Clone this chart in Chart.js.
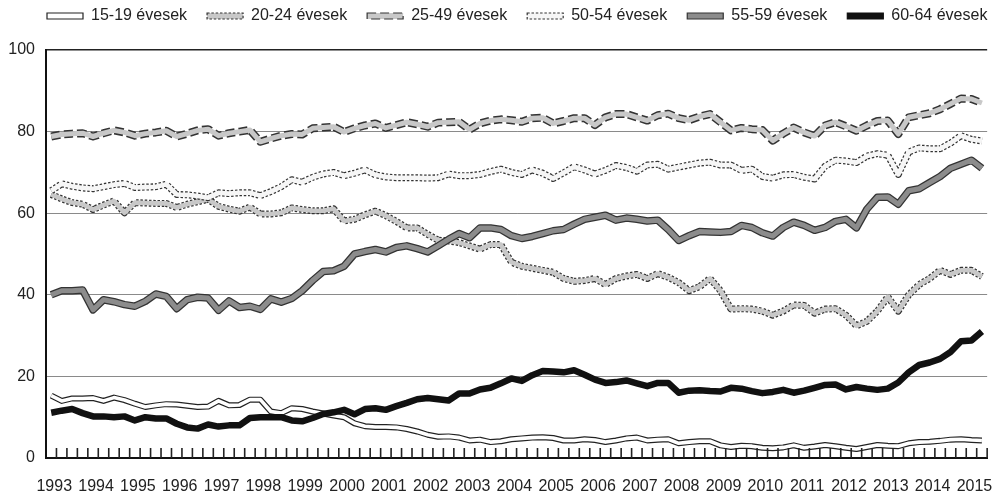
<!DOCTYPE html>
<html>
<head>
<meta charset="utf-8">
<script src="https://cdn.jsdelivr.net/npm/chart.js@4.4.0/dist/chart.umd.min.js"></script>
<style>
  html, body { margin: 0; padding: 0; background: #fff; }
  #wrap { width: 1001px; height: 496px; }
</style>
</head>
<body>
<div id="wrap"><canvas id="chart"></canvas></div>
<script>
// years on the axis, data is quarterly from 1993 Q1 to 2015 Q2
const years = [1993, 1994, 1995, 1996, 1997, 1998, 1999, 2000, 2001, 2002, 2003, 2004,
               2005, 2006, 2007, 2008, 2009, 2010, 2011, 2012, 2013, 2014, 2015];
const quarters = [];
years.forEach(y => ['I', 'II', 'III', 'IV'].forEach(q => quarters.push(y + '. ' + q + '.')));
quarters.length = 90;

const seriesNames = ['15-19 évesek', '20-24 évesek', '25-49 évesek', '50-54 évesek', '55-59 évesek', '60-64 évesek'];

const age1519 = [
  15.3, 14.0, 14.6, 14.6, 14.7, 14.0, 14.8, 14.2, 13.3, 12.5,
  12.9, 13.2, 13.1, 12.8, 12.5, 12.6, 14.0, 12.9, 13.0, 14.3,
  14.3, 11.4, 11.0, 12.2, 12.0, 11.4, 10.9, 10.4, 10.0, 8.5,
  7.8, 7.6, 7.6, 7.5, 7.1, 6.5, 5.7, 5.2, 5.3, 5.0,
  4.3, 4.5, 3.9, 4.1, 4.6, 4.8, 5.0, 5.1, 4.9, 4.3,
  4.3, 4.6, 4.4, 3.9, 4.3, 4.8, 5.0, 4.3, 4.5, 4.6,
  3.6, 3.9, 4.1, 4.1, 3.1, 2.7, 3.0, 2.9, 2.5, 2.4,
  2.6, 3.1, 2.5, 2.8, 3.2, 2.9, 2.5, 2.2, 2.7, 3.2,
  3.0, 2.9, 3.6, 3.9, 4.0, 4.2, 4.5, 4.6, 4.4, 4.3
];
const age2024 = [
  64.6, 63.5, 62.6, 62.2, 60.9, 62.0, 63.0, 60.1, 62.6, 62.5,
  62.4, 62.4, 61.4, 62.2, 62.8, 63.4, 61.7, 61.0, 60.5, 61.5,
  59.8, 59.8, 60.1, 61.3, 60.9, 60.6, 60.6, 61.1, 58.1, 58.5,
  59.6, 60.5, 59.4, 58.0, 56.4, 56.4, 54.8, 53.4, 53.2, 52.8,
  52.0, 51.2, 52.3, 52.3, 48.0, 47.0, 46.5, 46.0, 45.5, 44.0,
  43.3, 43.5, 44.0, 42.5, 44.0, 44.6, 45.0, 44.0, 45.2, 44.3,
  43.0, 41.0, 42.0, 44.0, 41.0, 36.5, 36.6, 36.5, 36.0, 35.0,
  36.0, 37.5, 37.4, 35.5, 36.5, 36.6, 35.0, 32.4, 33.5, 36.0,
  39.5, 36.0, 40.0, 42.5, 44.0, 46.0, 45.0, 46.0, 46.0, 44.5
];
const age2549 = [
  78.8, 79.3, 79.5, 79.6, 78.8, 79.6, 80.3, 79.8, 79.0, 79.5,
  79.8, 80.2, 78.8, 79.5, 80.3, 80.6, 79.0, 79.6, 80.0, 80.4,
  77.5, 78.3, 79.0, 79.4, 79.3, 80.8, 81.0, 81.2, 79.9, 80.8,
  81.5, 82.0, 80.9, 81.6, 82.3, 81.8, 81.2, 82.2, 82.3, 82.4,
  80.5, 82.0, 82.7, 83.0, 82.8, 82.4, 83.3, 83.4, 82.0, 82.6,
  83.3, 83.3, 81.6, 83.5, 84.3, 84.3, 83.5, 82.7, 84.0, 84.4,
  83.3, 82.8, 83.7, 84.3, 82.3, 80.3, 80.9, 80.6, 80.4, 77.8,
  79.5, 81.0, 79.8, 78.9, 81.5, 82.3, 81.3, 80.2, 81.5, 82.6,
  82.7, 79.4, 83.5, 84.0, 84.5, 85.5, 86.8, 88.1, 88.0, 87.0
];
const age5054 = [
  65.5, 67.2, 66.6, 66.2, 66.0, 66.5, 67.0, 67.3, 66.3, 66.4,
  66.5, 67.1, 64.6, 64.5, 64.2, 63.8, 65.0, 64.8, 65.0, 65.0,
  64.3, 65.3, 66.5, 68.2, 67.6, 68.8, 69.6, 70.0, 69.2, 69.8,
  70.6, 69.4, 68.9, 68.7, 68.7, 68.7, 68.6, 68.7, 69.6, 69.2,
  69.2, 69.5, 70.2, 70.8, 70.0, 69.5, 70.6, 69.8, 68.5, 69.9,
  71.4, 70.6, 69.6, 70.5, 71.7, 71.2, 70.3, 71.8, 72.0, 70.8,
  71.3, 71.8, 72.3, 72.5, 71.8, 71.8, 70.5, 70.8, 69.0, 68.6,
  69.4, 69.5, 68.8, 68.4, 71.5, 73.0, 72.8, 72.4, 74.0, 74.6,
  74.2, 69.5, 75.0, 76.0, 75.8, 75.8, 77.2, 79.0, 78.1, 77.7
];
const age5559 = [
  40.0, 41.0, 41.0, 41.2, 36.3, 38.8, 38.3, 37.6, 37.2, 38.4,
  40.2, 39.6, 36.6, 38.8, 39.4, 39.2, 36.2, 38.5, 36.9, 37.2,
  36.4, 39.0, 38.2, 39.1, 41.0, 43.5, 45.7, 45.9, 47.0, 50.0,
  50.6, 51.1, 50.5, 51.6, 52.0, 51.3, 50.5, 52.0, 53.6, 55.0,
  54.0, 56.4, 56.4, 56.0, 54.5, 53.8, 54.3, 55.0, 55.7, 56.0,
  57.3, 58.5, 59.0, 59.5, 58.3, 58.8, 58.5, 58.1, 58.3, 56.0,
  53.3, 54.5, 55.5, 55.4, 55.3, 55.5, 57.0, 56.5, 55.2, 54.4,
  56.5, 57.8, 57.0, 55.8, 56.5, 58.0, 58.5, 56.4, 61.0, 63.9,
  64.0, 62.2, 65.5, 66.0, 67.5, 69.0, 71.0, 72.0, 73.0, 71.0
];
const age6064 = [
  11.1, 11.6, 12.0, 11.0, 10.2, 10.2, 10.0, 10.2, 9.2, 10.0,
  9.7, 9.7, 8.4, 7.5, 7.2, 8.2, 7.7, 8.0, 8.0, 9.8,
  10.0, 10.0, 10.0, 9.2, 9.0, 9.8, 10.8, 11.2, 11.8, 10.7,
  12.0, 12.2, 11.8, 12.7, 13.5, 14.4, 14.7, 14.4, 14.1, 15.8,
  15.8, 16.8, 17.2, 18.3, 19.5, 18.9, 20.3, 21.3, 21.2, 21.0,
  21.5, 20.4, 19.2, 18.4, 18.6, 19.0, 18.3, 17.6, 18.4, 18.4,
  16.0, 16.5, 16.6, 16.4, 16.3, 17.2, 17.0, 16.4, 15.9, 16.2,
  16.7, 16.0, 16.5, 17.2, 17.9, 18.0, 16.8, 17.4, 17.0, 16.7,
  17.0, 18.5, 21.0, 22.8, 23.4, 24.3, 26.0, 28.6, 28.8, 31.0
];
const seriesData = [age1519, age2024, age2549, age5054, age5559, age6064];

// how each line looks: a dark outline stroke under a lighter inner stroke
const looks = [
  { fill: '#ffffff', edge: '#222222', dash: [],         outer: 6,   inner: 3.6 },
  { fill: '#c8c8c8', edge: '#333333', dash: [2.5, 1.8], outer: 7,   inner: 4.6 },
  { fill: '#c8c8c8', edge: '#333333', dash: [9, 4],     outer: 8,   inner: 5 },
  { fill: '#f6f6f6', edge: '#333333', dash: [2.5, 1.8], outer: 7,   inner: 4.6 },
  { fill: '#8c8c8c', edge: '#333333', dash: [],         outer: 7.5, inner: 5 },
  { fill: '#111111', edge: '#111111', dash: [],         outer: 0,   inner: 6.5 }
];

const FONT = "'Liberation Sans', Arial, sans-serif";
const FONT_SIZE = 16;

const datasets = [];
const innerIndex = [];
seriesData.forEach((data, s) => {
  const lk = looks[s];
  if (lk.outer) {
    datasets.push({
      label: seriesNames[s] + ' edge',
      data: data,
      borderColor: lk.edge,
      borderWidth: lk.outer,
      borderDash: lk.dash,
      borderJoinStyle: 'round',
      pointRadius: 0,
      tension: 0,
      order: (5 - s) * 2 + 1
    });
  }
  innerIndex.push(datasets.length);
  datasets.push({
    label: seriesNames[s],
    data: data,
    borderColor: lk.fill,
    borderWidth: lk.inner,
    borderJoinStyle: 'round',
    pointRadius: 0,
    tension: 0,
    order: (5 - s) * 2
  });
});

// small quarter marks standing on the x axis, between the categories
const quarterTicks = {
  id: 'quarterTicks',
  afterDatasetsDraw(chart) {
    const { ctx, scales: { x, y } } = chart;
    const step = x.getPixelForValue(1) - x.getPixelForValue(0);
    const base = y.getPixelForValue(0);
    ctx.save();
    ctx.strokeStyle = '#222';
    ctx.lineWidth = 1.6;
    ctx.beginPath();
    for (let i = 0; i < quarters.length; i++) {
      const px = x.getPixelForValue(i) + step / 2;
      ctx.moveTo(px, base);
      ctx.lineTo(px, base - 10);
    }
    ctx.stroke();
    ctx.restore();
  }
};

// keep the legend on one row and nudge it into place
const legendPlace = {
  id: 'legendPlace',
  beforeInit(chart) {
    const lg = chart.legend;
    const fit = lg.fit;
    lg.fit = function () {
      const w = this.maxWidth;
      this.maxWidth = 1400;
      fit.call(this);
      this.maxWidth = w;
      this.width = w;
      this.height = 50;
    };
    const draw = lg.draw;
    lg.draw = function () {
      const ctx = this.ctx;
      ctx.save();
      ctx.translate(27, -12);
      draw.apply(this, arguments);
      ctx.restore();
    };
  }
};

new Chart(document.getElementById('chart'), {
  type: 'line',
  data: { labels: quarters, datasets: datasets },
  plugins: [quarterTicks, legendPlace],
  options: {
    responsive: true,
    maintainAspectRatio: false,
    animation: false,
    layout: { padding: { left: 0, right: 13, top: 0, bottom: 0 } },
    plugins: {
      tooltip: { enabled: false },
      legend: {
        position: 'top',
        align: 'start',
        labels: {
          boxWidth: 36,
          boxHeight: 6,
          padding: 20,
          color: '#222',
          font: { family: FONT, size: FONT_SIZE },
          generateLabels: () => seriesNames.map((name, s) => ({
            text: name,
            fillStyle: looks[s].fill,
            strokeStyle: looks[s].edge,
            lineWidth: 1.2,
            lineDash: looks[s].dash,
            hidden: false,
            fontColor: '#222',
            datasetIndex: innerIndex[s]
          }))
        }
      }
    },
    scales: {
      x: {
        type: 'category',
        offset: true,
        grid: { display: false, drawTicks: false },
        border: { display: true, color: '#111', width: 2 },
        ticks: {
          autoSkip: false,
          maxRotation: 0,
          padding: 19,
          labelOffset: 3,
          color: '#222',
          font: { family: FONT, size: FONT_SIZE },
          callback: (v, i) => (i % 4 === 0 ? String(years[i / 4]) : '')
        },
        afterFit: (scale) => { scale.height = 38; }
      },
      y: {
        min: 0,
        max: 100,
        grid: {
          color: (c) => (c.tick && c.tick.value === 100 ? '#222' : '#8a8a8a'),
          lineWidth: (c) => (c.tick && c.tick.value === 100 ? 1.5 : 1),
          drawTicks: false
        },
        border: { display: true, color: '#111', width: 2 },
        ticks: {
          stepSize: 20,
          padding: 11,
          color: '#222',
          font: { family: FONT, size: FONT_SIZE }
        },
        afterFit: (scale) => { scale.width = 46; }
      }
    }
  }
});
</script>
</body>
</html>
